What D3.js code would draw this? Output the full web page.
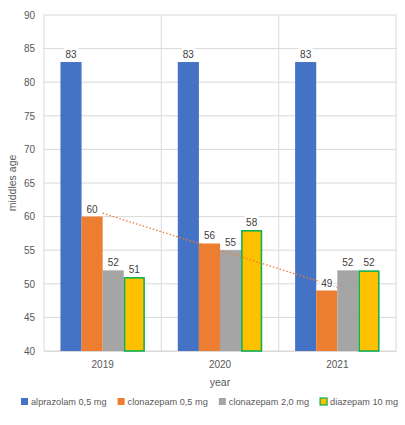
<!DOCTYPE html>
<html><head><meta charset="utf-8">
<script src="https://cdn.jsdelivr.net/npm/d3@7"></script>
<style>body{margin:0;background:#fff}svg{display:block;font-family:"Liberation Sans",Arial,sans-serif}</style>
</head><body><svg id="c" width="405" height="425"></svg>
<script>
const years = ["2019","2020","2021"];
const seriesNames = ["alprazolam 0,5 mg","clonazepam 0,5 mg","clonazepam 2,0 mg","diazepam 10 mg"];
const alprazolam05 = [83,83,83];
const clonazepam05 = [60,56,49];
const clonazepam20 = [52,55,52];
const diazepam10 = [51,58,52];
const yTicks = [40,45,50,55,60,65,70,75,80,85,90];
const colors = ["#4472C4","#ED7D31","#A5A5A5","#FFC000"];
const strokes = [null,null,null,"#00B050"];

const series = [alprazolam05, clonazepam05, clonazepam20, diazepam10];
const svg = d3.select("#c");
const L=44,R=396,T=15,B=351;
const x = d3.scaleBand().domain(years).range([L,R]).padding(0);
const xs = d3.scaleBand().domain(d3.range(4)).range([0,x.bandwidth()]).paddingInner(0.0).paddingOuter(0.78);
const y = d3.scaleLinear().domain([40,90]).range([B,T]);

// grid
svg.append("g").selectAll("line").data(yTicks).join("line")
  .attr("x1",L).attr("x2",R).attr("y1",d=>y(d)).attr("y2",d=>y(d))
  .attr("stroke","#D9D9D9").attr("stroke-width",1);
const vg = [L, ...years.map(d=>x(d)+x.bandwidth())];
svg.append("g").selectAll("line").data(vg).join("line")
  .attr("x1",d=>d).attr("x2",d=>d).attr("y1",T).attr("y2",B)
  .attr("stroke","#D9D9D9").attr("stroke-width",1);

// y axis labels
const yAxis = d3.axisLeft(y).tickValues(yTicks).tickSize(0).tickPadding(9);
const ga = svg.append("g").attr("transform",`translate(${L},0)`).call(yAxis);
ga.select(".domain").remove();
ga.selectAll("text").attr("fill","#595959").attr("font-size",10);

// x axis
const xAxis = d3.axisBottom(x).tickSize(0).tickPadding(10);
const gx = svg.append("g").attr("transform",`translate(0,${B})`).call(xAxis);
gx.select(".domain").attr("stroke","#D9D9D9");
gx.selectAll("text").attr("fill","#595959").attr("font-size",10);

// bars
series.forEach((vals,si)=>{
  svg.append("g").selectAll("rect").data(vals).join("rect")
    .attr("x",(d,i)=>x(years[i])+xs(si)+(strokes[si]?0.75:0))
    .attr("y",d=>y(d)+(strokes[si]?0.75:0))
    .attr("width",xs.bandwidth()-(strokes[si]?1.5:0))
    .attr("height",d=>B-y(d)-(strokes[si]?0.75:0))
    .attr("fill",colors[si])
    .attr("stroke",strokes[si]||"none").attr("stroke-width",1.5);
});

// linear trendline for clonazepam 0,5 mg
const n = clonazepam05.length;
const xi = d3.range(n);
const mx = d3.mean(xi), my = d3.mean(clonazepam05);
const slope = d3.sum(xi.map((v,i)=>(v-mx)*(clonazepam05[i]-my)))/d3.sum(xi.map(v=>(v-mx)**2));
const icpt = my - slope*mx;
svg.append("line")
  .attr("x1",x(years[0])+x.bandwidth()/2).attr("y1",y(icpt))
  .attr("x2",x(years[n-1])+x.bandwidth()/2).attr("y2",y(icpt+slope*(n-1)))
  .attr("stroke","#ED7D31").attr("stroke-width",1.3).attr("stroke-dasharray","1.5,2");

// labels
series.forEach((vals,si)=>{
  const g = svg.append("g");
  vals.forEach((d,i)=>{
    const cx = x(years[i])+xs(si)+xs.bandwidth()/2;
    const cy = y(d)-4;
    g.append("rect").attr("x",cx-7).attr("y",cy-10).attr("width",14).attr("height",11).attr("fill","#fff");
    g.append("text").attr("x",cx).attr("y",cy).attr("text-anchor","middle")
      .attr("font-size",10).attr("fill","#404040").text(d);
  });
});

// axis titles
svg.append("text").attr("transform",`translate(16,${(T+B)/2}) rotate(-90)`)
  .attr("text-anchor","middle").attr("font-size",10.5).attr("fill","#595959").text("middles age");
svg.append("text").attr("x",(L+R)/2).attr("y",386).attr("text-anchor","middle")
  .attr("font-size",10.5).attr("fill","#595959").text("year");

// legend
const lg = svg.append("g");
const items = seriesNames.map((nm,si)=>{
  const it = lg.append("g");
  it.append("rect").attr("x",0).attr("y",-7).attr("width",7).attr("height",7)
    .attr("fill",colors[si]).attr("stroke",strokes[si]||"none").attr("stroke-width",1.2);
  const t = it.append("text").attr("x",10).attr("y",0).attr("font-size",9.2)
    .attr("fill","#595959").text(nm);
  return {it, w: 10 + t.node().getComputedTextLength()};
});
const totalW = d3.sum(items, d=>d.w);
const gap = (398-21-totalW)/(items.length-1);
let lx = 21;
items.forEach(d=>{ d.it.attr("transform",`translate(${lx},405)`); lx += d.w + gap; });
</script></body></html>
